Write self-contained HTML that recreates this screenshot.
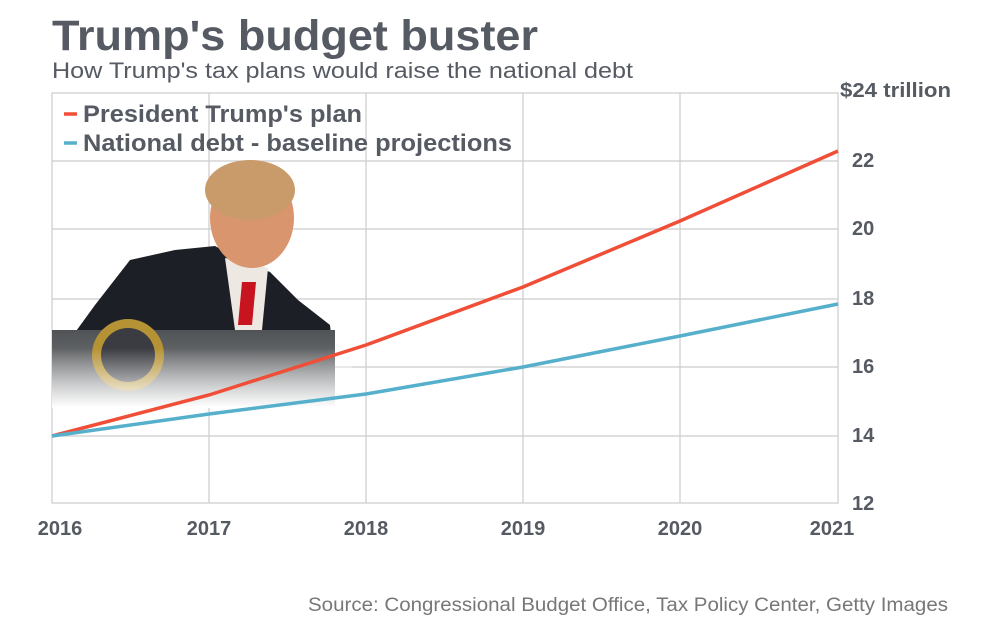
<!DOCTYPE html>
<html><head><meta charset="utf-8"><style>
body{margin:0;background:#fff;width:997px;height:620px;overflow:hidden;font-family:"Liberation Sans",sans-serif}
</style></head><body>
<svg width="997" height="620" viewBox="0 0 997 620" xmlns="http://www.w3.org/2000/svg" font-family="Liberation Sans, sans-serif">
<defs>
<linearGradient id="fade" x1="0" y1="0" x2="0" y2="1">
<stop offset="0" stop-color="#fff" stop-opacity="0"/><stop offset="1" stop-color="#fff" stop-opacity="1"/></linearGradient>
<linearGradient id="pod" x1="0" y1="0" x2="0" y2="1"><stop offset="0" stop-color="#505356"/><stop offset="1" stop-color="#8a8c8e"/></linearGradient>
</defs>
<text x="52" y="50" font-size="43" font-weight="bold" fill="#555a63" textLength="486" lengthAdjust="spacingAndGlyphs">Trump's budget buster</text>
<text x="52" y="78" font-size="22" fill="#555a63" textLength="581" lengthAdjust="spacingAndGlyphs">How Trump's tax plans would raise the national debt</text>
<g stroke="#ccc" stroke-width="1.2" fill="none">
<rect x="52" y="93" width="786" height="410"/>
<line x1="52" y1="161" x2="838" y2="161"/><line x1="52" y1="229" x2="838" y2="229"/>
<line x1="52" y1="299" x2="838" y2="299"/><line x1="52" y1="367" x2="838" y2="367"/>
<line x1="52" y1="436" x2="838" y2="436"/>
<line x1="209" y1="93" x2="209" y2="503"/><line x1="366" y1="93" x2="366" y2="503"/>
<line x1="523" y1="93" x2="523" y2="503"/><line x1="680" y1="93" x2="680" y2="503"/>
</g>
<g>
<polygon points="66,345 95,305 130,260 175,250 215,246 245,262 270,272 298,300 330,325 335,370 66,370" fill="#1c1f26"/>
<polygon points="225,258 245,262 268,268 262,330 235,330" fill="#eee8e2"/>
<polygon points="242,282 256,282 252,325 238,325" fill="#c8141e"/>
<ellipse cx="252" cy="218" rx="42" ry="50" fill="#d9956e"/>
<ellipse cx="250" cy="190" rx="45" ry="30" fill="#c99a6a"/>
<rect x="52" y="330" width="283" height="76" fill="url(#pod)"/>
<circle cx="128" cy="355" r="36" fill="#b59234"/><circle cx="128" cy="355" r="27" fill="#3a3c42"/>
<rect x="52" y="348" width="300" height="60" fill="url(#fade)"/>
</g>
<polyline points="52,436 209,395 366,345 523,287 680,221 838,151" fill="none" stroke="#f04e37" stroke-width="3.5"/>
<polyline points="52,436 209,414 366,394 523,367 680,336 838,304" fill="none" stroke="#56b0cc" stroke-width="3.5"/>
<line x1="64" y1="114" x2="77" y2="114" stroke="#f04e37" stroke-width="3.5"/>
<line x1="64" y1="143" x2="77" y2="143" stroke="#56b0cc" stroke-width="3.5"/>
<g font-size="24" font-weight="bold" fill="#555a63">
<text x="83" y="122" textLength="279" lengthAdjust="spacingAndGlyphs">President Trump's plan</text>
<text x="83" y="151" textLength="429" lengthAdjust="spacingAndGlyphs">National debt - baseline projections</text>
</g>
<g font-size="20" font-weight="bold" fill="#555a63">
<text x="840" y="97" textLength="111" lengthAdjust="spacingAndGlyphs">$24 trillion</text>
<text x="852" y="167">22</text><text x="852" y="235">20</text><text x="852" y="305">18</text>
<text x="852" y="373">16</text><text x="852" y="442">14</text><text x="852" y="510">12</text>
<g text-anchor="middle">
<text x="60" y="535">2016</text><text x="209" y="535">2017</text><text x="366" y="535">2018</text>
<text x="523" y="535">2019</text><text x="680" y="535">2020</text><text x="832" y="535">2021</text>
</g></g>
<text x="948" y="611" font-size="19" fill="#777" text-anchor="end" textLength="640" lengthAdjust="spacingAndGlyphs">Source: Congressional Budget Office, Tax Policy Center, Getty Images</text>
</svg>
</body></html>
